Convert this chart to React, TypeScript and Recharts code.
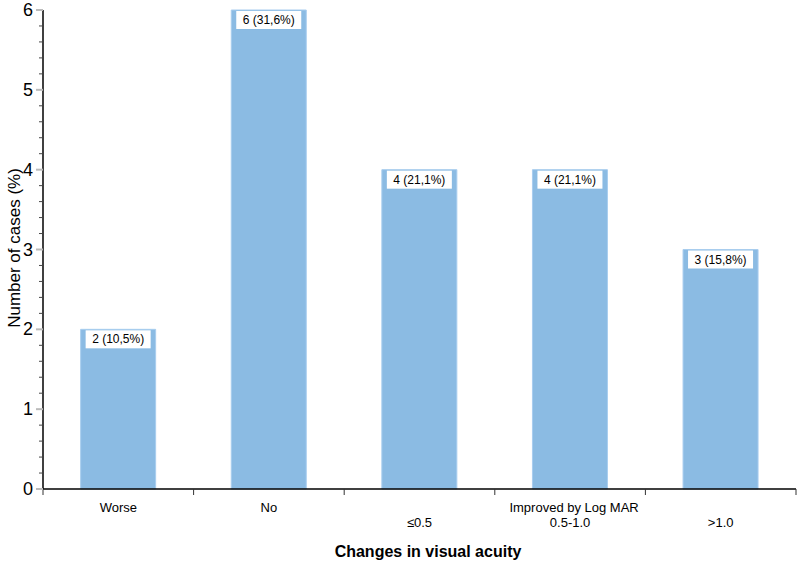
import React from 'react';
import { BarChart, Bar, XAxis, YAxis, LabelList } from 'recharts';

const categories = ['Worse', 'No', '≤0.5', '0.5-1.0', '>1.0'];
const topLines = ['Worse', 'No', '', 'Improved by Log MAR', ''];
const bottomLines = ['', '', '≤0.5', '0.5-1.0', '>1.0'];
const cases = [2, 6, 4, 4, 3];
const percents = ['10,5', '31,6', '21,1', '21,1', '15,8'];
const yTicks = [
  0, 0.2, 0.4, 0.6, 0.8, 1, 1.2, 1.4, 1.6, 1.8, 2, 2.2, 2.4, 2.6, 2.8, 3,
  3.2, 3.4, 3.6, 3.8, 4, 4.2, 4.4, 4.6, 4.8, 5, 5.2, 5.4, 5.6, 5.8, 6,
];

const data = categories.map((c, i) => ({
  name: c,
  cases: cases[i],
  label: `${cases[i]} (${percents[i]}%)`,
}));

const FONT = '"Liberation Sans", Arial, sans-serif';

const YTick = (props: any) => {
  const { x, y, payload } = props;
  const v = payload.value;
  const major = Math.abs(v - Math.round(v)) < 1e-6;
  if (!major) {
    return <line x1={x - 4} x2={x} y1={y} y2={y} stroke="#444" strokeWidth={1} />;
  }
  return (
    <g>
      <line x1={x - 7} x2={x} y1={y} y2={y} stroke="#bbb" strokeWidth={2} />
      <text x={x - 10} y={y + 6} textAnchor="end" fontSize={18} fontFamily={FONT} fill="#000">
        {v}
      </text>
    </g>
  );
};

const XTick = (props: any) => {
  const { x, y, index, width, visibleTicksCount } = props;
  const band = width && visibleTicksCount ? width / visibleTicksCount : 150.6;
  const left = x - band / 2;
  return (
    <g>
      <line x1={left} x2={left} y1={y} y2={y + 6} stroke="#333" strokeWidth={1} />
      {index === visibleTicksCount - 1 && (
        <line x1={x + band / 2} x2={x + band / 2} y1={y} y2={y + 6} stroke="#333" strokeWidth={1} />
      )}
      {topLines[index] && (
        <text x={x + (index === 3 ? 4 : 0)} y={y + 23} textAnchor="middle" fontSize={13} fontFamily={FONT} fill="#000">
          {topLines[index]}
        </text>
      )}
      {bottomLines[index] && (
        <text x={x} y={y + 38} textAnchor="middle" fontSize={13} fontFamily={FONT} fill="#000">
          {bottomLines[index]}
        </text>
      )}
    </g>
  );
};

const BarLabel = (props: any) => {
  const { x, y, width, index } = props;
  return (
    <g>
      <rect x={x + 5} y={y + 1} width={width - 10} height={18} fill="#fff" />
      <text x={x + width / 2} y={y + 14} textAnchor="middle" fontSize={12} fontFamily={FONT} fill="#000">
        {data[index].label}
      </text>
    </g>
  );
};

export default function App() {
  return (
    <div style={{ position: 'absolute', left: 0, top: 0, width: 800, height: 567, background: '#fff' }}>
      <BarChart
        width={800}
        height={567}
        data={data}
        margin={{ top: 10, right: 4, left: 0, bottom: 8 }}
        barCategoryGap="25%"
      >
        <XAxis
          dataKey="name"
          height={70}
          interval={0}
          tickLine={false}
          tickSize={0}
          tickMargin={0}
          axisLine={{ stroke: '#000', strokeWidth: 1.5 }}
          tick={<XTick />}
          label={{
            content: () => (
              <text x={428} y={557} textAnchor="middle" fontSize={16} fontWeight="bold" fontFamily={FONT} fill="#000">
                Changes in visual acuity
              </text>
            ),
          }}
        />
        <YAxis
          width={43}
          domain={[0, 6]}
          ticks={yTicks}
          interval={0}
          tickLine={false}
          tickSize={0}
          tickMargin={0}
          axisLine={{ stroke: '#000', strokeWidth: 1.5 }}
          tick={<YTick />}
          label={{
            content: () => (
              <text
                x={20}
                y={248}
                textAnchor="middle"
                fontSize={17}
                fontFamily={FONT}
                fill="#000"
                transform="rotate(-90 20 248)"
              >
                Number of cases (%)
              </text>
            ),
          }}
        />
        <Bar dataKey="cases" fill="#8bbbe3" stroke="#a8cdee" strokeWidth={1} isAnimationActive={false}>
          <LabelList dataKey="label" content={<BarLabel />} />
        </Bar>
      </BarChart>
    </div>
  );
}
